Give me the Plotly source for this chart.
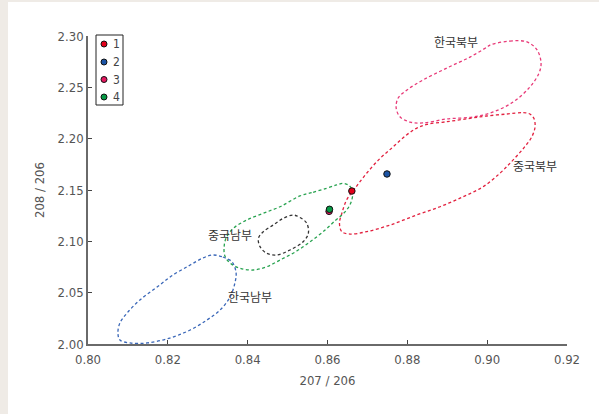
import plotly.graph_objects as go

# Isotope ratio samples (207Pb/206Pb vs 208Pb/206Pb)
sample_names = ["1", "2", "3", "4"]
sample_x = [0.8661, 0.8749, 0.8604, 0.8605]
sample_y = [2.1490, 2.1656, 2.1292, 2.1312]
sample_colors = ["#e2001a", "#1c54a5", "#e4175f", "#079a45"]

# Reference field outlines (closed loops)
kn_x = [0.9007, 0.9057, 0.9100, 0.9125, 0.9135, 0.9130, 0.9107, 0.9065, 0.9015, 0.8965,
        0.8899, 0.8839, 0.8807, 0.8782, 0.8772, 0.8777, 0.8799, 0.8839, 0.8899, 0.8957, 0.9000]
kn_y = [2.2912, 2.2951, 2.2942, 2.2864, 2.2737, 2.2640, 2.2503, 2.2357, 2.2260, 2.2211,
        2.2192, 2.2153, 2.2162, 2.2211, 2.2299, 2.2396, 2.2474, 2.2571, 2.2688, 2.2795, 2.2893]

cn_x = [0.8849, 0.8899, 0.8957, 0.8999, 0.9049, 0.9091, 0.9107, 0.9117, 0.9120, 0.9112,
        0.9091, 0.9061, 0.9032, 0.8990, 0.8940, 0.8882, 0.8823, 0.8757, 0.8698, 0.8656,
        0.8636, 0.8630, 0.8636, 0.8648, 0.8669, 0.8698, 0.8732, 0.8765, 0.8798, 0.8823]
cn_y = [2.2140, 2.2165, 2.2198, 2.2221, 2.2240, 2.2253, 2.2240, 2.2198, 2.2117, 2.2019,
        2.1906, 2.1776, 2.1663, 2.1532, 2.1435, 2.1337, 2.1256, 2.1159, 2.1094, 2.1071,
        2.1094, 2.1176, 2.1273, 2.1403, 2.1517, 2.1663, 2.1809, 2.1922, 2.2036, 2.2101]

cs_x = [0.8531, 0.8564, 0.8598, 0.8623, 0.8638, 0.8652, 0.8661, 0.8663, 0.8658, 0.8648,
        0.8636, 0.8621, 0.8594, 0.8556, 0.8519, 0.8481, 0.8448, 0.8414, 0.8381, 0.8356,
        0.8343, 0.8341, 0.8346, 0.8364, 0.8398, 0.8439, 0.8481]
cs_y = [2.1442, 2.1478, 2.1517, 2.1549, 2.1565, 2.1549, 2.1507, 2.1451, 2.1370, 2.1305,
        2.1256, 2.1208, 2.1110, 2.0994, 2.0896, 2.0818, 2.0753, 2.0721, 2.0737, 2.0789,
        2.0857, 2.0945, 2.1032, 2.1127, 2.1208, 2.1273, 2.1337]

core_x = [0.8514, 0.8531, 0.8548, 0.8552, 0.8539, 0.8506, 0.8473, 0.8448, 0.8431, 0.8427,
          0.8439, 0.8464, 0.8489]
core_y = [2.1256, 2.1232, 2.1176, 2.1078, 2.0996, 2.0916, 2.0867, 2.0883, 2.0948, 2.1030,
          2.1094, 2.1159, 2.1224]

ks_x = [0.8313, 0.8338, 0.8361, 0.8371, 0.8368, 0.8356, 0.8331, 0.8298, 0.8256, 0.8205,
        0.8148, 0.8105, 0.8080, 0.8075, 0.8080, 0.8098, 0.8130, 0.8173, 0.8213, 0.8256, 0.8288]
ks_y = [2.0867, 2.0847, 2.0799, 2.0692, 2.0594, 2.0458, 2.0331, 2.0234, 2.0136, 2.0058,
        2.0010, 2.0010, 2.0039, 2.0107, 2.0205, 2.0302, 2.0429, 2.0555, 2.0672, 2.0769, 2.0838]

region_labels = ["한국북부", "중국북부", "중국남부", "한국남부"]
region_label_x = [0.8922, 0.9120, 0.8356, 0.8406]
region_label_y = [2.2942, 2.1734, 2.1062, 2.0458]

x_ticks = [0.80, 0.82, 0.84, 0.86, 0.88, 0.90, 0.92]
y_ticks = [2.00, 2.05, 2.10, 2.15, 2.20, 2.25, 2.30]

W, H = 599, 414
ML, MR, MT, MB = 88, 32, 36, 70
PW, PH = W - ML - MR, H - MT - MB

TICK_FONT = "Liberation Sans Narrow, Arial Narrow, DejaVu Sans Condensed, sans-serif"
KR_FONT = "Noto Sans CJK KR, sans-serif"

fig = go.Figure()

outlines = [
    (kn_x, kn_y, "#e83a78"),
    (cn_x, cn_y, "#e2213f"),
    (cs_x, cs_y, "#27a24f"),
    (core_x, core_y, "#333333"),
    (ks_x, ks_y, "#3a67b8"),
]
for xs, ys, col in outlines:
    fig.add_trace(go.Scatter(
        x=xs + xs[:1], y=ys + ys[:1], mode="lines",
        line=dict(color=col, width=1.3, dash="3px,2.5px", shape="spline", smoothing=1.0),
        hoverinfo="skip", showlegend=False,
    ))

for name, x, y, c in zip(sample_names, sample_x, sample_y, sample_colors):
    fig.add_trace(go.Scatter(
        x=[x], y=[y], mode="markers", name=name,
        marker=dict(size=6.5, color=c, line=dict(color="#111111", width=1)),
        showlegend=False,
    ))

for t, x, y in zip(region_labels, region_label_x, region_label_y):
    fig.add_annotation(x=x, y=y, text=t, showarrow=False,
                       font=dict(family=KR_FONT, size=12, color="#333333"))

# Compact legend box in the upper-left corner
def px_to_paper_x(px):
    return (px - ML) / PW

def px_to_paper_y(py):
    return (H - MB - py) / PH

shapes = [
    # page background: beige strip on left/top, white panel
    dict(type="rect", xref="paper", yref="paper", layer="below",
         x0=px_to_paper_x(8), x1=px_to_paper_x(W + 5),
         y0=px_to_paper_y(H + 5), y1=px_to_paper_y(2),
         fillcolor="white", line=dict(width=0)),
    dict(type="rect", xref="paper", yref="paper",
         x0=px_to_paper_x(96), x1=px_to_paper_x(123),
         y0=px_to_paper_y(105), y1=px_to_paper_y(35),
         fillcolor="rgba(0,0,0,0)", line=dict(color="#222222", width=1)),
]
legend_rows = [44, 62, 79.5, 97]
for name, c, row in zip(sample_names, sample_colors, legend_rows):
    shapes.append(dict(type="circle", xref="paper", yref="paper",
                       xsizemode="pixel", ysizemode="pixel",
                       xanchor=px_to_paper_x(104), yanchor=px_to_paper_y(row),
                       x0=-3, x1=3, y0=-3, y1=3,
                       fillcolor=c, line=dict(color="#111111", width=1)))
    fig.add_annotation(xref="paper", yref="paper", x=px_to_paper_x(111), y=px_to_paper_y(row),
                       text=name, showarrow=False, xanchor="left", yanchor="middle",
                       font=dict(family=TICK_FONT, size=12, color="#444444"))

axis_common = dict(
    showline=True, linecolor="#6a6a6a", linewidth=1.5,
    ticks="inside", ticklen=4, tickcolor="#444444", tickwidth=1,
    showgrid=False, zeroline=False,
    tickfont=dict(family=TICK_FONT, size=13, color="#555555"),
)

fig.update_layout(
    width=W, height=H,
    margin=dict(l=ML, r=MR, t=MT, b=MB),
    paper_bgcolor="#efebe6", plot_bgcolor="white",
    shapes=shapes,
    showlegend=False,
    xaxis=dict(range=[0.80, 0.92], tickvals=x_ticks, tickformat=".2f",
               ticklabelstandoff=3,
               title=dict(text="207 / 206", standoff=10,
                          font=dict(family=TICK_FONT, size=13, color="#555555")),
               **axis_common),
    yaxis=dict(range=[2.00, 2.30], tickvals=y_ticks, tickformat=".2f",
               title=dict(text="208 / 206", standoff=10,
                          font=dict(family=TICK_FONT, size=13, color="#555555")),
               **axis_common),
)

fig.write_html("out.html")
